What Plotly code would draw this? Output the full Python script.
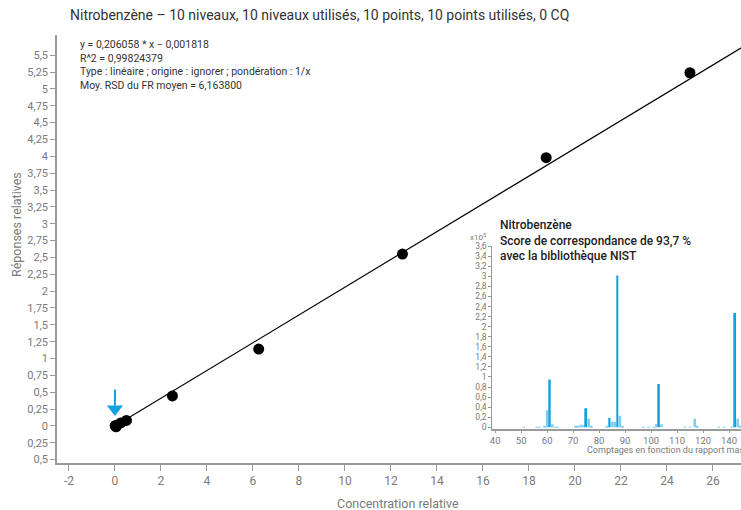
import plotly.graph_objects as go

# ---- Calibration data ----
concentration = [0.01, 0.025, 0.05, 0.25, 0.5, 2.5, 6.25, 12.5, 18.75, 25]
response = [0.001, 0.004, -0.012, 0.045, 0.082, 0.445, 1.14, 2.55, 3.98, 5.24]
slope = 0.206058
intercept = -0.001818
fit_x = [0, 27.5]

title_text = "Nitrobenzène – 10 niveaux, 10 niveaux utilisés, 10 points, 10 points utilisés, 0 CQ"
eq_lines = ["y = 0,206058 * x − 0,001818", "R^2 = 0,99824379",
            "Type : linéaire ; origine : ignorer ; pondération : 1/x",
            "Moy. RSD du FR moyen = 6,163800"]

x_ticks = list(range(-2, 27, 2))
y_ticks = [i * 0.25 for i in range(-2, 23)]

# ---- Spectrum (inset), intensities x10^5 ----
mz_main = [61, 75, 84, 87, 103, 132.3]
int_main = [0.95, 0.38, 0.19, 3.02, 0.86, 2.27]
mz_minor = [51, 56, 57, 59, 60, 62, 63, 64, 71, 72, 73, 74, 76, 77, 83, 85, 86, 88, 89,
            97, 99, 101, 102, 104, 113, 115, 116.8, 117.7, 126, 128, 131, 133.3, 134.2]
int_minor = [0.01, 0.01, 0.01, 0.03, 0.34, 0.06, 0.01, 0.01, 0.03, 0.03, 0.05, 0.04, 0.17, 0.02,
             0.03, 0.11, 0.11, 0.23, 0.02, 0.01, 0.01, 0.01, 0.06, 0.06, 0.01, 0.01, 0.17, 0.02,
             0.01, 0.01, 0.01, 0.17, 0.02]
inset_x_ticks = [40, 50, 60, 70, 80, 90, 100, 110, 120, 130]
inset_x_labels = ["40", "50", "60", "70", "80", "90", "100", "110", "120", "140"]
inset_y_ticks = [round(i * 0.2, 1) for i in range(0, 19)]
inset_title = "Nitrobenzène<br>Score de correspondance de 93,7 %<br>avec la bibliothèque NIST"
inset_x_title = "Comptages en fonction du rapport masse/charge (m/z)"

arrow_x = 0
arrow_shaft = [0.54, 0.3]
arrow_head_y = 0.25

def fmt(v):
    s = ("%g" % abs(v)).replace(".", ",")
    return s

GREY = "#7a7a7a"
AXIS = "#9a9a9a"
FONT = "Roboto"
BLUE = "#14a0e0"
LIGHT = "#7fcdf0"

fig = go.Figure()

fit_y = [slope * x + intercept for x in fit_x]
fig.add_trace(go.Scatter(x=fit_x, y=fit_y, mode="lines",
                         line=dict(color="black", width=1.2), hoverinfo="skip"))
fig.add_trace(go.Scatter(x=concentration, y=response, mode="markers",
                         marker=dict(color="black", size=11)))
fig.add_trace(go.Scatter(x=[arrow_x, arrow_x], y=arrow_shaft, mode="lines",
                         line=dict(color=BLUE, width=2)))
fig.add_trace(go.Scatter(x=[arrow_x], y=[arrow_head_y], mode="markers",
                         marker=dict(symbol="triangle-down", color=BLUE, size=14)))

fig.add_trace(go.Bar(x=mz_minor, y=int_minor, width=1.0, marker=dict(color=LIGHT, line=dict(width=0)),
                     xaxis="x2", yaxis="y2"))
fig.add_trace(go.Bar(x=mz_main, y=int_main, width=0.75, marker=dict(color=BLUE, line=dict(width=0)),
                     xaxis="x2", yaxis="y2"))

W, H = 741, 510
L, R, T, B = 57, 0, 35, 47
pw, ph = W - L - R, H - T - B

def px(xp):
    return (xp - L) / pw

def py(yp):
    return (H - B - yp) / ph

fig.update_layout(
    width=W, height=H, margin=dict(l=L, r=R, t=T, b=B),
    paper_bgcolor="white", plot_bgcolor="white", showlegend=False,
    font=dict(family=FONT, color=GREY), separators=", ", barmode="overlay",
    xaxis=dict(range=[-2.52, 27.22], tickvals=x_ticks, ticktext=[fmt(v) if v >= 0 else str(v) for v in x_ticks],
               showgrid=False, zeroline=False, showline=True, linecolor=AXIS, linewidth=1.5,
               ticks="outside", ticklen=6, tickcolor=AXIS, tickfont=dict(size=12, color=GREY),
               domain=[0, 1]),
    yaxis=dict(range=[-0.55, 5.8], tickvals=y_ticks, ticktext=[fmt(v) for v in y_ticks],
               showgrid=False, zeroline=False, showline=True, linecolor=AXIS, linewidth=1.5,
               ticks="outside", ticklen=5, tickcolor=AXIS, tickfont=dict(size=11, color=GREY),
               domain=[0, 1]),
    xaxis2=dict(domain=[px(492.3), 1.0], anchor="y2", range=[38.9, 134.6],
                tickvals=inset_x_ticks, ticktext=inset_x_labels,
                showgrid=False, zeroline=False, showline=True, linecolor=AXIS, linewidth=1.5,
                ticks="outside", ticklen=2, tickcolor=AXIS, tickfont=dict(size=9.5, color=GREY)),
    yaxis2=dict(domain=[py(429), py(245.7)], anchor="x2", range=[-0.034, 3.61],
                tickvals=inset_y_ticks, ticktext=[fmt(v) for v in inset_y_ticks],
                showgrid=False, zeroline=False, showline=True, linecolor=AXIS, linewidth=1,
                ticks="outside", ticklen=3, tickcolor=AXIS, tickfont=dict(size=8.5, color=GREY)),
)

ann = [
    dict(text=title_text, x=px(68), y=py(15), xanchor="left", yanchor="middle",
         font=dict(size=14, color="#333333")),
    dict(text="<br>".join(eq_lines), x=px(78), y=py(36), xanchor="left", yanchor="top",
         align="left", font=dict(size=10.5, color="#333333")),
    dict(text="Réponses relatives", x=px(16), y=py(225), textangle=-90, xanchor="center",
         yanchor="middle", font=dict(size=12.5, color=GREY)),
    dict(text="Concentration relative", x=px(398), y=py(503), xanchor="center", yanchor="middle",
         font=dict(size=12.5, color=GREY)),
    dict(text=inset_title, x=px(498), y=py(216), xanchor="left", yanchor="top", align="left",
         font=dict(size=12, color="#222222", weight=500)),
    dict(text=inset_x_title, x=px(585), y=py(450), xanchor="left", yanchor="middle",
         font=dict(size=9, color=GREY)),
    dict(text="x10<sup>5</sup>", x=px(478), y=py(237), xanchor="center", yanchor="middle",
         font=dict(size=8, color=GREY)),
]
for a in ann:
    a.update(xref="paper", yref="paper", showarrow=False)
fig.update_layout(annotations=ann)

fig.write_html("out.html")
